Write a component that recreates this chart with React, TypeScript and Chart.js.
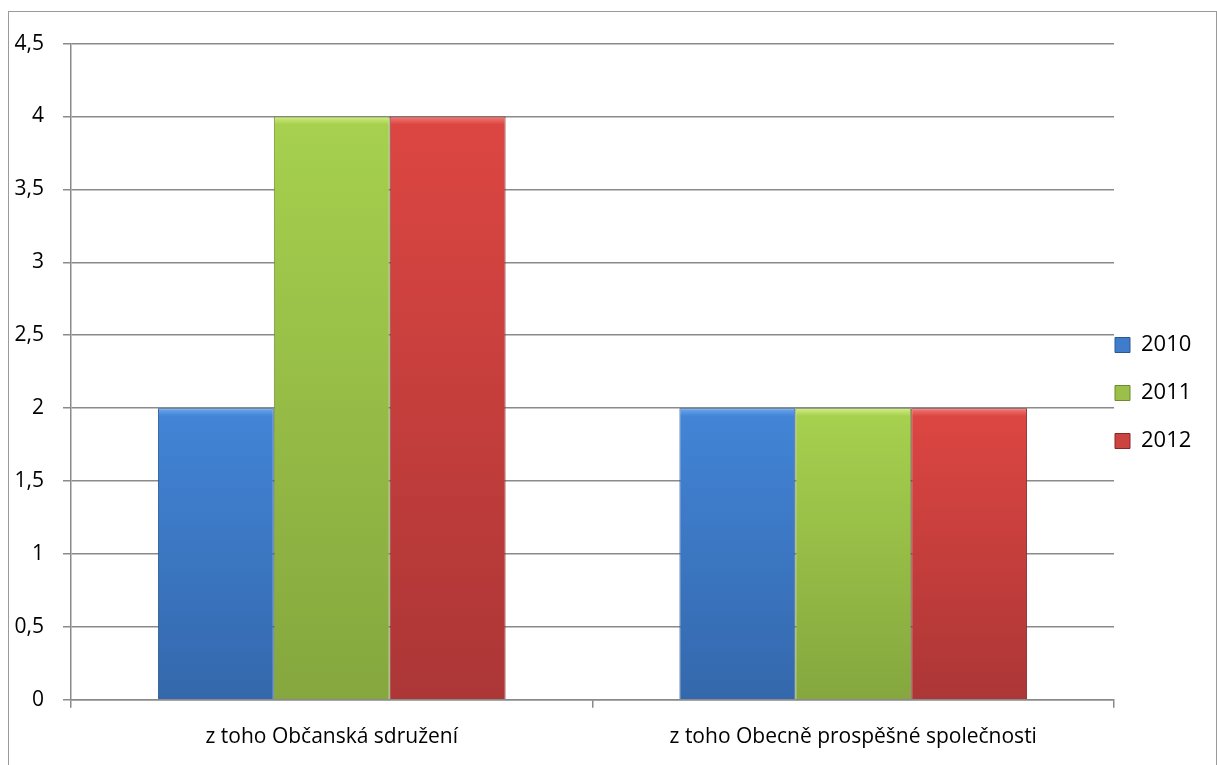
import React, { useEffect, useRef } from "react";
import { Chart, registerables } from "chart.js";

Chart.register(...registerables);

const categories = ["z toho Občanská sdružení", "z toho Obecně prospěšné společnosti"];
const seriesLabels = ["2010", "2011", "2012"];
const values2010 = [2, 2];
const values2011 = [4, 2];
const values2012 = [4, 2];
const seriesValues = [values2010, values2011, values2012];
const yMin = 0;
const yMax = 4.5;
const yStep = 0.5;

const lightColors = ["#6ca8ee", "#d2ee84", "#f27c78"];
const topColors = ["#4284d6", "#a6d04e", "#dc4642"];
const bottomColors = ["#3468ac", "#85a73e", "#ac3636"];
const borderColors = ["#2c5890", "#6c8a30", "#862828"];
const midColors = ["#3f7ccc", "#9bbf48", "#cc4440"];

const FONT = "'Open Sans', 'Noto Sans', sans-serif";
const GRID = "#8a8a8a";

const makeBg = (i: number) => (ctx: any) => {
  const chart = ctx.chart;
  if (!chart.chartArea || ctx.type !== "data" || !ctx.parsed) return midColors[i];
  const y = chart.scales.y;
  const top = y.getPixelForValue(ctx.parsed.y);
  const bottom = y.getPixelForValue(0);
  const h = Math.max(bottom - top, 1);
  const g = chart.ctx.createLinearGradient(0, top, 0, bottom);
  g.addColorStop(0, lightColors[i]);
  g.addColorStop(Math.min(8 / h, 0.5), topColors[i]);
  g.addColorStop(1, bottomColors[i]);
  return g;
};

const legendShift = {
  id: "legendShift",
  afterLayout(chart: any) {
    const l = chart.legend;
    if (l) {
      l.left -= 25;
      l.right -= 25;
      l.top -= 12;
      l.bottom -= 12;
    }
  },
};

export default function App() {
  const ref = useRef<HTMLCanvasElement | null>(null);
  useEffect(() => {
    if (!ref.current) return;
    const chart = new Chart(ref.current, {
      type: "bar",
      data: {
        labels: categories,
        datasets: seriesLabels.map((label, i) => ({
          label,
          data: seriesValues[i],
          backgroundColor: makeBg(i),
          borderColor: borderColors[i],
          borderWidth: 1,
          categoryPercentage: 0.6667,
          barPercentage: 1,
        })),
      },
      options: {
        responsive: false,
        animation: false,
        devicePixelRatio: 1,
        layout: { padding: { top: 31, right: 0, bottom: 5, left: 0 } },
        plugins: {
          tooltip: { enabled: false },
          legend: {
            position: "right",
            maxWidth: 102,
            labels: {
              boxWidth: 15,
              boxHeight: 15,
              padding: 26,
              color: "#000",
              font: { family: FONT, size: 22 },
              generateLabels: (chart: any) =>
                chart.data.datasets.map((ds: any, i: number) => ({
                  text: ds.label,
                  fillStyle: midColors[i],
                  strokeStyle: borderColors[i],
                  lineWidth: 1,
                  datasetIndex: i,
                  hidden: false,
                  fontColor: "#000",
                })),
            },
          },
        },
        scales: {
          x: {
            offset: true,
            grid: {
              display: true,
              offset: true,
              drawOnChartArea: false,
              drawTicks: true,
              tickLength: 8,
              color: GRID,
              lineWidth: 1.5,
            },
            border: { display: true, color: GRID, width: 1.5 },
            ticks: {
              color: "#000",
              padding: 17,
              maxRotation: 0,
              font: { family: FONT, size: 21 },
            },
          },
          y: {
            min: yMin,
            max: yMax,
            afterFit: (scale: any) => {
              scale.width = 62;
            },
            ticks: {
              stepSize: yStep,
              color: "#000",
              padding: 19,
              font: { family: FONT, size: 21 },
              callback: (v: any) => String(v).replace(".", ","),
            },
            grid: {
              color: GRID,
              lineWidth: 1.5,
              tickLength: 8,
              drawTicks: true,
            },
            border: { display: true, color: GRID, width: 1.5 },
          },
        },
      },
      plugins: [legendShift],
    });
    return () => chart.destroy();
  }, []);

  return (
    <div
      style={{
        position: "fixed",
        top: 11,
        left: 8,
        width: 1207,
        height: 760,
        border: "1px solid #9a9a9a",
        background: "#fff",
      }}
    >
      <canvas ref={ref} width={1207} height={760} style={{ display: "block" }} />
    </div>
  );
}
